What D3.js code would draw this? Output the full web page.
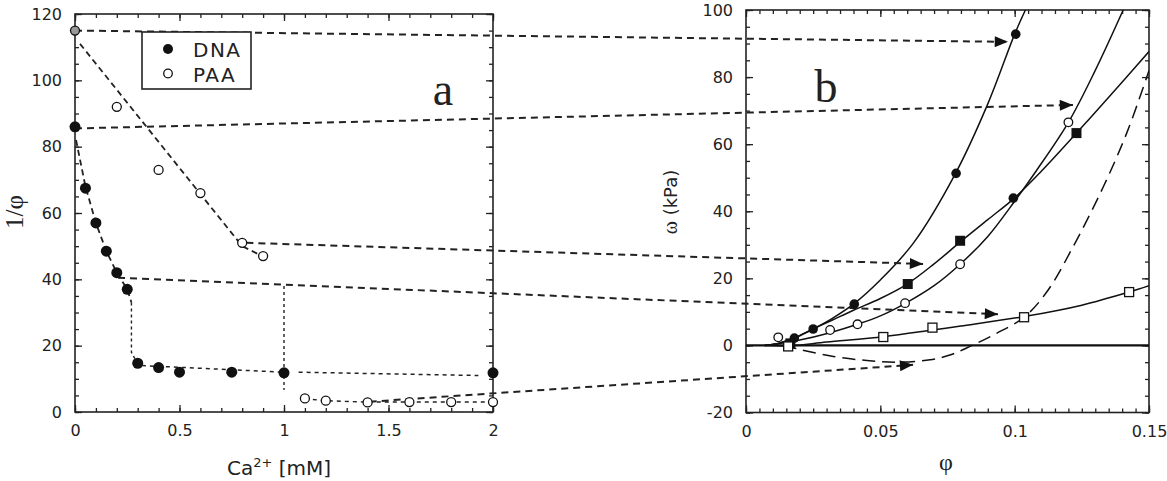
<!DOCTYPE html>
<html>
<head>
<meta charset="utf-8">
<script src="https://cdn.jsdelivr.net/npm/d3@7"></script>
<style>
  body { margin: 0; background: #fff; }
  text { fill: #222; }
</style>
</head>
<body>
<svg id="chart" width="1167" height="481"></svg>
<script>
// ---- panel a : 1/phi vs Ca2+ ----
const dnaCa  = [0, 0.05, 0.1, 0.15, 0.2, 0.25, 0.3, 0.4, 0.5, 0.75, 1.0, 2.0];
const dnaInv = [86, 67.5, 57, 48.5, 42, 37, 14.7, 13.4, 12, 12, 11.8, 11.8];
const paaCa  = [0, 0.2, 0.4, 0.6, 0.8, 0.9, 1.1, 1.2, 1.4, 1.6, 1.8, 2.0];
const paaInv = [115, 92, 73, 66, 51, 47, 4.1, 3.4, 2.9, 3, 3, 3];

// guide lines drawn in panel a  [Ca, 1/phi]
const paaGuide    = [[0.024, 111], [0.8, 50], [0.88, 47.5]];
const paaLowGuide = [[1.1, 4], [1.2, 3.4], [1.4, 3], [2.0, 3]];
const dnaGuide    = [[0.005, 82], [0.05, 68], [0.1, 57], [0.15, 48.5], [0.2, 42], [0.25, 37], [0.27, 33]];
const dnaStep     = [[0.27, 33], [0.27, 18], [0.3, 14.5]];
const dnaFlat     = [[0.32, 14], [1.0, 12]];
const dnaFlat2    = [[1.07, 12], [1.93, 11]];
const oneMmDrop   = [[1.0, 38], [1.0, 6.6]];

// arrows from panel a [Ca, 1/phi] to panel b [phi, omega]
const linkFrom = [[0, 115], [0, 85.5], [0.82, 51], [0.206, 40.5], [1.41, 3.1]];
const linkTo   = [[0.0975, 90.5], [0.1217, 71.7], [0.0659, 24.3], [0.0938, 9.3], [0.0622, -5.8]];

// ---- panel b : omega (kPa) vs phi ----
// fitted curves
const c1Phi = [0.007, 0.012, 0.018, 0.025, 0.032, 0.04, 0.05, 0.0623, 0.078, 0.09, 0.1, 0.104];
const c1Om  = [0, 0.6, 2.2, 4.9, 8, 12.3, 19.5, 30.5, 51.3, 72, 92.8, 100];
const c2Phi = [0.007, 0.012, 0.018, 0.025, 0.032, 0.04, 0.05, 0.06, 0.07, 0.08, 0.09, 0.1, 0.11, 0.123, 0.135, 0.15];
const c2Om  = [0, 0.6, 2.2, 4.9, 7.5, 10.5, 14, 18.3, 24.3, 31, 37.5, 44, 52, 63.3, 74, 87.6];
const c3Phi = [0.007, 0.012, 0.02, 0.0313, 0.0415, 0.05, 0.059, 0.07, 0.0797, 0.09, 0.1, 0.108, 0.12, 0.13, 0.1404];
const c3Om  = [0, 0.5, 1.6, 3.8, 6.3, 8.8, 12.4, 17.8, 24.2, 32.5, 43, 52, 66.5, 82, 100];
const c4Phi = [0.007, 0.0164, 0.03, 0.0511, 0.0694, 0.08, 0.1035, 0.125, 0.1426, 0.15];
const c4Om  = [0, -0.1, 1.0, 2.6, 4.6, 5.8, 8.6, 12, 15.9, 17.8];
const dashPhi = [0.014, 0.02, 0.0325, 0.045, 0.056, 0.0685, 0.0765, 0.0834, 0.093, 0.1035, 0.112, 0.1218, 0.133, 0.1417, 0.149, 0.15];
const dashOm  = [0, -1.2, -3.3, -4.5, -5, -4.3, -2.7, -0.3, 3.5, 8.4, 16, 29.5, 47.3, 63.3, 79.6, 82];

// measured points
const filledCircPhi = [0.018, 0.025, 0.0403, 0.0782, 0.1004, 0.0995];
const filledCircOm  = [2.2, 4.9, 12.3, 51.3, 92.8, 43.9];
const filledSqPhi   = [0.0165, 0.0602, 0.0797, 0.123];
const filledSqOm    = [0.6, 18.3, 31.2, 63.3];
const openCircPhi   = [0.012, 0.0313, 0.0415, 0.0592, 0.0797, 0.12];
const openCircOm    = [2.4, 4.6, 6.3, 12.6, 24.2, 66.5];
const openSqPhi     = [0.0157, 0.0511, 0.0694, 0.1035, 0.1426];
const openSqOm      = [-0.3, 2.5, 5.3, 8.4, 15.9];

const svg = d3.select("#chart");
const ink = "#222";
const tickFont = "'DejaVu Sans', sans-serif";

const xa = d3.scaleLinear().domain([0, 2]).range([75, 493]);
const ya = d3.scaleLinear().domain([0, 120]).range([412, 14]);
const xb = d3.scaleLinear().domain([0, 0.15]).range([746, 1149]);
const yb = d3.scaleLinear().domain([-20, 100]).range([412.5, 10]);

const zip = (a, b) => a.map((v, i) => [v, b[i]]);

// frame with inward ticks on all four sides
function frame(x, y, xMaj, xMin, yMaj, yMin) {
  const g = svg.append("g");
  const [x0, x1] = x.range(), [y0, y1] = y.range();
  const fmt = d => String(+d.toFixed(3));

  const axes = [
    [d3.axisBottom(x), `translate(0,${y0})`, xMaj, xMin, true],
    [d3.axisTop(x), `translate(0,${y1})`, xMaj, xMin, false],
    [d3.axisLeft(y), `translate(${x0},0)`, yMaj, yMin, true],
    [d3.axisRight(y), `translate(${x1},0)`, yMaj, yMin, false],
  ];
  axes.forEach(([ax, tr, maj, min, labels]) => {
    g.append("g").attr("transform", tr)
      .call(ax.tickValues(min).tickSize(-4).tickFormat(""))
      .call(s => s.select(".domain").remove());
    g.append("g").attr("transform", tr)
      .call(ax.tickValues(maj).tickSize(-7).tickPadding(labels ? 13 : 0)
        .tickFormat(labels ? fmt : ""))
      .call(s => s.select(".domain").remove())
      .call(s => s.selectAll("text").attr("font-family", tickFont)
        .attr("font-size", 16).attr("fill", ink));
  });
  g.selectAll("line").attr("stroke", ink).attr("stroke-width", 1.3);
  g.append("rect")
    .attr("x", x0).attr("y", y1).attr("width", x1 - x0).attr("height", y0 - y1)
    .attr("fill", "none").attr("stroke", ink).attr("stroke-width", 1.6);
}

frame(xa, ya, d3.range(0, 2.01, 0.5), d3.range(0, 2.01, 0.1), d3.range(0, 121, 20), d3.range(0, 121, 5));
frame(xb, yb, [0, 0.05, 0.1, 0.15], d3.range(0, 0.1501, 0.005), d3.range(-20, 101, 20), d3.range(-20, 101, 5));

// ---- panel a guides ----
const lineA = d3.line().x(d => xa(d[0])).y(d => ya(d[1]));
function guide(pts, dash, w) {
  svg.append("path").attr("d", lineA(pts)).attr("fill", "none")
    .attr("stroke", ink).attr("stroke-width", w).attr("stroke-dasharray", dash);
}
guide(paaGuide, "6,4", 1.8);
guide(paaLowGuide, "4,4", 1.4);
guide(dnaGuide, "6,4", 1.8);
guide(dnaStep, "3,3", 1.4);
guide(dnaFlat, "4,4", 1.5);
guide(dnaFlat2, "4,4", 1.5);
guide(oneMmDrop, "3,3", 1.4);

// ---- panel b curves ----
const defs = svg.append("defs");
defs.append("clipPath").attr("id", "clipB").append("rect")
  .attr("x", 746).attr("y", 10).attr("width", 403).attr("height", 402.5);
defs.append("marker").attr("id", "head")
  .attr("viewBox", "0 0 12 10").attr("refX", 12).attr("refY", 5)
  .attr("markerUnits", "userSpaceOnUse").attr("markerWidth", 14).attr("markerHeight", 11)
  .attr("orient", "auto")
  .append("path").attr("d", "M0,0L12,5L0,10Z").attr("fill", "#111");

const plotB = svg.append("g").attr("clip-path", "url(#clipB)");
plotB.append("line")
  .attr("x1", xb(0)).attr("x2", xb(0.15)).attr("y1", yb(0)).attr("y2", yb(0))
  .attr("stroke", "#111").attr("stroke-width", 2.4);

const lineB = d3.line().x(d => xb(d[0])).y(d => yb(d[1])).curve(d3.curveCatmullRom.alpha(0.5));
[[c1Phi, c1Om], [c2Phi, c2Om], [c3Phi, c3Om], [c4Phi, c4Om]].forEach(([p, o]) => {
  plotB.append("path").attr("d", lineB(zip(p, o))).attr("fill", "none")
    .attr("stroke", "#111").attr("stroke-width", 1.5);
});
plotB.append("path").attr("d", lineB(zip(dashPhi, dashOm))).attr("fill", "none")
  .attr("stroke", "#111").attr("stroke-width", 1.5).attr("stroke-dasharray", "13,7");

// ---- arrows between panels ----
linkFrom.forEach((f, i) => {
  const t = linkTo[i];
  svg.append("line")
    .attr("x1", xa(f[0])).attr("y1", ya(f[1]))
    .attr("x2", xb(t[0])).attr("y2", yb(t[1]))
    .attr("stroke", ink).attr("stroke-width", 2).attr("stroke-dasharray", "7,5")
    .attr("marker-end", "url(#head)");
});

// ---- markers ----
function circles(xs, ys, sx, sy, r, filled, fill) {
  svg.append("g").selectAll("circle").data(zip(xs, ys)).join("circle")
    .attr("cx", d => sx(d[0])).attr("cy", d => sy(d[1])).attr("r", r)
    .attr("fill", filled ? "#111" : (fill || "#fff"))
    .attr("stroke", "#111").attr("stroke-width", filled ? 0 : 1.3);
}
function squares(xs, ys, s, filled) {
  svg.append("g").selectAll("rect").data(zip(xs, ys)).join("rect")
    .attr("x", d => xb(d[0]) - s / 2).attr("y", d => yb(d[1]) - s / 2)
    .attr("width", s).attr("height", s)
    .attr("fill", filled ? "#111" : "#fff")
    .attr("stroke", "#111").attr("stroke-width", filled ? 0 : 1.3);
}

circles(dnaCa, dnaInv, xa, ya, 5.5, true);
circles(paaCa.slice(1), paaInv.slice(1), xa, ya, 4.5, false);
circles(paaCa.slice(0, 1), paaInv.slice(0, 1), xa, ya, 4.5, false, "#999");

circles(filledCircPhi, filledCircOm, xb, yb, 4.8, true);
circles(openCircPhi, openCircOm, xb, yb, 4.3, false);
squares(filledSqPhi, filledSqOm, 10, true);
squares(openSqPhi, openSqOm, 9, false);

// ---- legend ----
const leg = svg.append("g");
leg.append("rect").attr("x", 142).attr("y", 32).attr("width", 109).attr("height", 57)
  .attr("fill", "#fff").attr("stroke", ink).attr("stroke-width", 1.6);
leg.append("circle").attr("cx", 168).attr("cy", 49).attr("r", 5).attr("fill", "#111");
leg.append("circle").attr("cx", 168).attr("cy", 73.5).attr("r", 4.3)
  .attr("fill", "#fff").attr("stroke", "#111").attr("stroke-width", 1.3);
["DNA", "PAA"].forEach((t, i) => {
  leg.append("text").attr("x", 193).attr("y", 57 + i * 24.5).text(t)
    .attr("font-family", tickFont).attr("font-size", 20).attr("letter-spacing", 1.5);
});

// ---- titles & labels ----
const serif = "'Liberation Serif', 'Times New Roman', serif";
svg.append("text").attr("x", 443).attr("y", 105).attr("text-anchor", "middle")
  .attr("font-family", serif).attr("font-size", 46).text("a");
svg.append("text").attr("x", 826).attr("y", 102).attr("text-anchor", "middle")
  .attr("font-family", serif).attr("font-size", 46).text("b");

svg.append("text").attr("transform", "translate(23,212) rotate(-90)")
  .attr("text-anchor", "middle").attr("font-family", serif).attr("font-size", 25).text("1/φ");

const caLab = svg.append("text").attr("x", 279).attr("y", 475).attr("text-anchor", "middle")
  .attr("font-family", tickFont).attr("font-size", 20);
caLab.append("tspan").text("Ca");
caLab.append("tspan").attr("dy", -8).attr("font-size", 13).text("2+");
caLab.append("tspan").attr("dy", 8).text(" [mM]");

const omLab = svg.append("text").attr("transform", "translate(677,202) rotate(-90)")
  .attr("text-anchor", "middle").attr("font-size", 18).attr("font-family", tickFont);
omLab.append("tspan").attr("font-family", serif).attr("font-size", 20).text("ω");
omLab.append("tspan").text(" (kPa)");

svg.append("text").attr("x", 946).attr("y", 470).attr("text-anchor", "middle")
  .attr("font-family", serif).attr("font-size", 24).text("φ");
</script>
</body>
</html>
